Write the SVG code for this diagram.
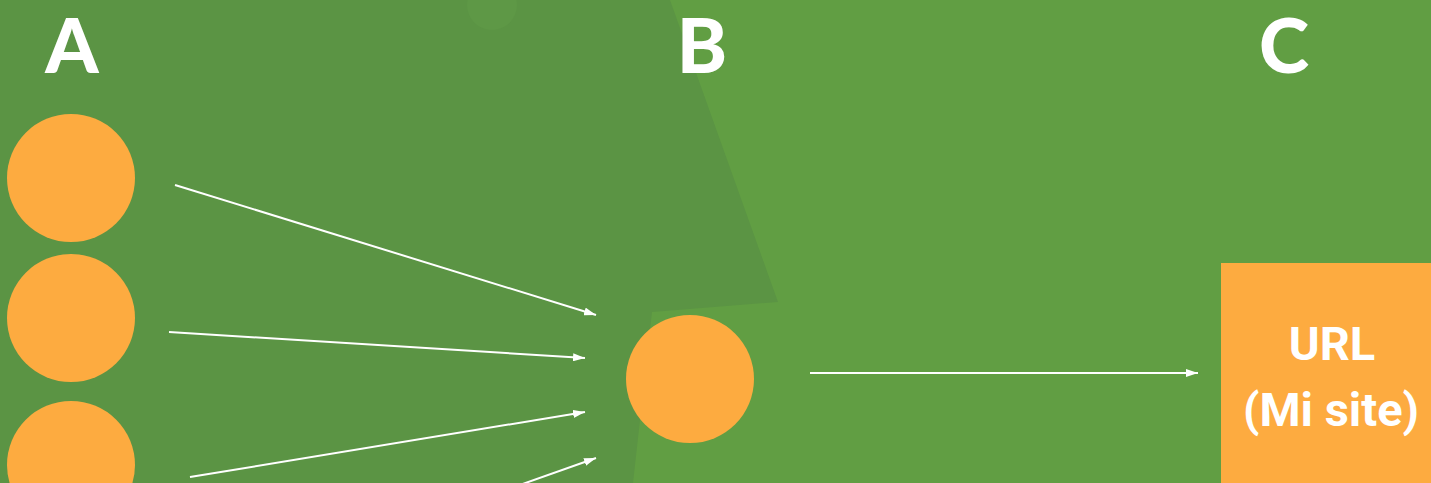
<svg xmlns="http://www.w3.org/2000/svg" width="1431" height="483" viewBox="0 0 1431 483">
<defs>
<style>
.node{fill:#fdab40}
.letter{font-family:Lato,"Noto Sans",sans-serif;font-weight:900;font-size:76px;fill:#ffffff;text-anchor:middle}
.lbl{font-family:Roboto,"Liberation Sans",sans-serif;font-weight:700;font-size:47px;fill:#ffffff;text-anchor:middle}
.edge{stroke:#ffffff;stroke-width:2;fill:none;marker-end:url(#ah)}
</style>
<marker id="ah" viewBox="0 0 12 8" refX="12" refY="4" markerWidth="12" markerHeight="8" markerUnits="userSpaceOnUse" orient="auto">
<path d="M0,0 L12,4 L0,8 Z" fill="#ffffff"/>
</marker>
</defs>
<rect x="0" y="0" width="1431" height="483" fill="#619e43"/>
<polygon points="0,0 670,0 778,302 652,312 633,483 0,483" fill="#5b9444"/>
<circle cx="492" cy="5" r="25" fill="#5e9846"/>
<text class="letter" x="72" y="73">A</text>
<text class="letter" x="702" y="73">B</text>
<text class="letter" x="1284" y="73">C</text>
<g id="connectors">
<line class="edge" x1="175" y1="185" x2="596" y2="315"/>
<line class="edge" x1="169" y1="332" x2="585" y2="358"/>
<line class="edge" x1="190" y1="477" x2="585" y2="412"/>
<line class="edge" x1="500" y1="492" x2="596" y2="458"/>
<line class="edge" x1="810" y1="373" x2="1198" y2="373"/>
</g>
<g id="a1"><circle class="node" cx="71" cy="178" r="64"/></g>
<g id="a2"><circle class="node" cx="71" cy="318" r="64"/></g>
<g id="a3"><circle class="node" cx="71" cy="465" r="64"/></g>
<g id="b"><circle class="node" cx="690" cy="379" r="64"/></g>
<g id="c">
<rect class="node" x="1221" y="263" width="210" height="220"/>
<text class="lbl" x="1332" y="360">URL</text>
<text class="lbl" x="1331" y="426">(Mi site)</text>
</g>
</svg>
